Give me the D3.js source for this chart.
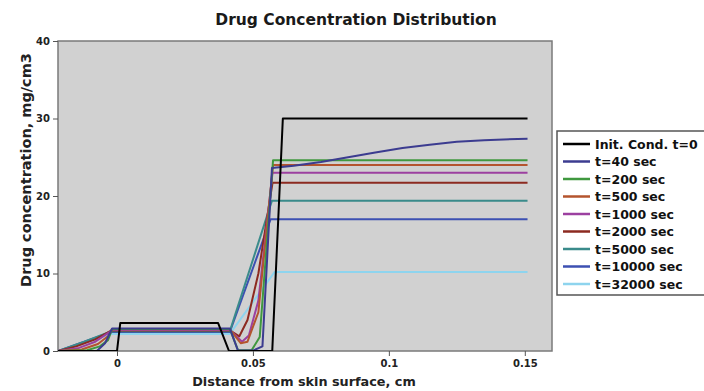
<!DOCTYPE html>
<html><head><meta charset="utf-8">
<script src="https://cdn.jsdelivr.net/npm/d3@7"></script>
<style>
html,body{margin:0;padding:0;background:#fff;}
text{font-family:"DejaVu Sans",sans-serif;}
</style></head>
<body><svg id="chart" width="704" height="391"></svg>
<script>
// ---- data ----
const seriesNames = ["Init. Cond. t=0","t=40 sec","t=200 sec","t=500 sec","t=1000 sec","t=2000 sec","t=5000 sec","t=10000 sec","t=32000 sec"];
const seriesColors = ["#000000","#3c3c90","#40983f","#b4542e","#9c40a0","#8c2a20","#3a8b8b","#3d50b2","#8ed4ee"];
const xTickValues = [0,0.05,0.1,0.15];
const xTickLabels = ["0","0.05","0.1","0.15"];
const yTickValues = [0,10,20,30,40];
const yTickLabels = ["0","10","20","30","40"];

const initCond = [[-0.0217,0],[0,0],[0.0012,3.6],[0.0372,3.6],[0.0412,0],[0.0571,0],[0.0610,30],[0.151,30]];
const t40 = [[-0.0217,0],[-0.0074,0],[-0.0044,1.0],[-0.0018,2.9],[0.0415,2.9],[0.0445,0.05],[0.0500,0.05],[0.0535,0.6],[0.0570,23.6],[0.065,23.9],[0.075,24.4],[0.085,25.0],[0.095,25.6],[0.105,26.2],[0.115,26.6],[0.125,27.0],[0.135,27.2],[0.151,27.4]];
const t200 = [[-0.0217,0],[-0.011,0.1],[-0.0063,0.6],[-0.0033,1.4],[-0.0018,2.85],[0.0415,2.85],[0.0445,0.1],[0.0495,0.1],[0.0525,1.8],[0.0574,24.6],[0.151,24.6]];
const t500 = [[-0.0217,0],[-0.013,0.2],[-0.007,0.9],[-0.003,2.0],[-0.0018,2.8],[0.0415,2.8],[0.0455,1.0],[0.0480,1.2],[0.0520,5.0],[0.0574,24.0],[0.151,24.0]];
const t1000 = [[-0.0217,0],[-0.014,0.4],[-0.008,1.2],[-0.0025,2.5],[-0.0018,2.7],[0.0415,2.7],[0.0460,1.2],[0.0485,2.0],[0.0520,6.5],[0.0572,23.0],[0.151,23.0]];
const t2000 = [[-0.0217,0],[-0.015,0.6],[-0.008,1.5],[-0.002,2.65],[0.0415,2.65],[0.0450,1.9],[0.0480,4.0],[0.0520,10.0],[0.0572,21.7],[0.151,21.7]];
const t5000 = [[-0.0217,0],[-0.012,1.2],[-0.002,2.55],[0.0415,2.55],[0.0570,19.4],[0.151,19.4]];
const t10000 = [[-0.0217,0],[-0.002,2.45],[0.0415,2.45],[0.0565,17.0],[0.151,17.0]];
const t32000 = [[-0.0217,0],[-0.002,2.2],[0.0415,2.2],[0.0580,10.2],[0.151,10.2]];
const seriesData = [initCond,t40,t200,t500,t1000,t2000,t5000,t10000,t32000];

// ---- layout ----
const svg = d3.select("#chart");
const L = 58, R = 552, T = 41, B = 351;
const x = d3.scaleLinear().domain([-0.0217,0.16]).range([L,R]);
const y = d3.scaleLinear().domain([0,40]).range([B,T]);

svg.append("rect").attr("x",L).attr("y",T).attr("width",R-L).attr("height",B-T)
  .attr("fill","#d1d1d1").attr("stroke","#7a7a7a").attr("stroke-width",1.5);

svg.append("clipPath").attr("id","pc").append("rect")
  .attr("x",L).attr("y",T-2).attr("width",R-L).attr("height",B-T+2);

const line = d3.line().x(d=>x(d[0])).y(d=>y(d[1]));
const g = svg.append("g").attr("clip-path","url(#pc)");
for (let i = seriesData.length-1; i>=0; i--) {
  g.append("path").datum(seriesData[i]).attr("d",line)
    .attr("fill","none").attr("stroke",seriesColors[i]).attr("stroke-width",2)
    .attr("stroke-linejoin","round");
}

// axes
const xAxis = d3.axisBottom(x).tickValues(xTickValues).tickFormat((d,i)=>xTickLabels[i]).tickSize(5).tickSizeOuter(0);
const gx = svg.append("g").attr("transform",`translate(0,${B})`).call(xAxis);
gx.select(".domain").remove();
gx.selectAll("line").attr("stroke","#555");
gx.selectAll("text").attr("font-size",10).attr("font-weight","bold").attr("fill","#222").attr("dy","0.75em");

const yAxis = d3.axisLeft(y).tickValues(yTickValues).tickFormat((d,i)=>yTickLabels[i]).tickSize(5).tickSizeOuter(0);
const gy = svg.append("g").attr("transform",`translate(${L},0)`).call(yAxis);
gy.select(".domain").remove();
gy.selectAll("line").attr("stroke","#555");
gy.selectAll("text").attr("font-size",10).attr("font-weight","bold").attr("fill","#222");

// title & labels
svg.append("text").attr("x",356).attr("y",25).attr("text-anchor","middle")
  .attr("font-size",15.5).attr("font-weight","bold").attr("fill","#1a1a1a").text("Drug Concentration Distribution");
svg.append("text").attr("x",304).attr("y",386).attr("text-anchor","middle")
  .attr("font-size",12.8).attr("font-weight","bold").attr("fill","#222").text("Distance from skin surface, cm");
svg.append("text").attr("transform","translate(31,170) rotate(-90)").attr("text-anchor","middle")
  .attr("font-size",14.5).attr("font-weight","bold").attr("fill","#222").text("Drug concentration, mg/cm3");

// legend
const lg = svg.append("g");
lg.append("rect").attr("x",557).attr("y",131).attr("width",170).attr("height",164)
  .attr("fill","#fff").attr("stroke","#555").attr("stroke-width",1.5);
seriesNames.forEach((n,i)=>{
  const yy = 144 + i*17.5;
  lg.append("line").attr("x1",563).attr("x2",590).attr("y1",yy).attr("y2",yy)
    .attr("stroke",seriesColors[i]).attr("stroke-width",2.5);
  lg.append("text").attr("x",595).attr("y",yy).attr("dy","0.36em")
    .attr("font-size",12.5).attr("font-weight","bold").attr("fill","#111").text(n);
});
</script></body></html>
